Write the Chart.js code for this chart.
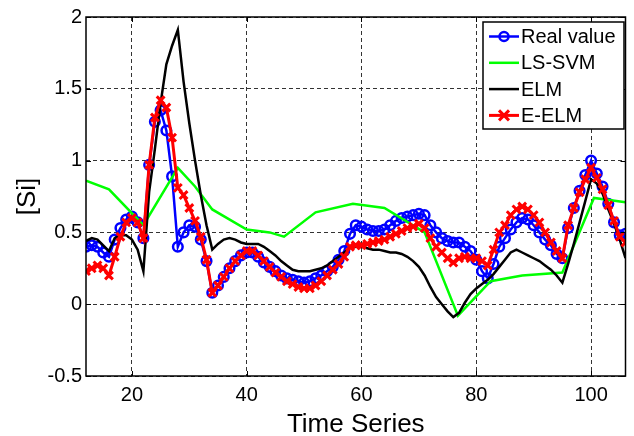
<!DOCTYPE html>
<html><head><meta charset="utf-8">
<script src="https://cdn.jsdelivr.net/npm/chart.js@4.4.1/dist/chart.umd.min.js"></script>
<style>html,body{margin:0;padding:0;background:#fff}#wrap{width:634px;height:436px}</style>
</head><body><div id="wrap"><canvas id="c" width="634" height="436"></canvas></div>
<script>
const timeIndex = [12,13,14,15,16,17,18,19,20,21,22,23,24,25,26,27,28,29,30,31,32,33,34,35,36,37,38,39,40,41,42,43,44,45,46,47,48,49,50,51,52,53,54,55,56,57,58,59,60,61,62,63,64,65,66,67,68,69,70,71,72,73,74,75,76,77,78,79,80,81,82,83,84,85,86,87,88,89,90,91,92,93,94,95,96,97,98,99,100,101,102,103,104,105,106];
const realValue = [0.40,0.41,0.40,0.36,0.33,0.45,0.53,0.59,0.61,0.57,0.46,0.97,1.27,1.35,1.21,0.89,0.40,0.50,0.55,0.54,0.45,0.30,0.08,0.13,0.19,0.25,0.30,0.34,0.36,0.36,0.33,0.29,0.26,0.23,0.20,0.18,0.17,0.16,0.15,0.16,0.18,0.20,0.23,0.26,0.31,0.37,0.49,0.55,0.54,0.52,0.51,0.51,0.52,0.55,0.58,0.60,0.61,0.62,0.63,0.62,0.55,0.50,0.46,0.44,0.43,0.43,0.40,0.37,0.31,0.23,0.18,0.28,0.40,0.46,0.52,0.57,0.60,0.59,0.55,0.50,0.45,0.41,0.35,0.32,0.53,0.67,0.79,0.90,1.00,0.91,0.82,0.70,0.57,0.48,0.49];
const lsSvmX = [12,16,22,28,31,34,40,44,46.5,52,58.5,64,71,76.8,82.5,88,95,100.5,106];
const lsSvmY = [0.86,0.80,0.55,0.95,0.82,0.66,0.52,0.50,0.47,0.64,0.70,0.67,0.50,-0.08,0.16,0.20,0.22,0.74,0.71];
const elmValue = [0.44,0.46,0.45,0.41,0.37,0.46,0.48,0.48,0.45,0.38,0.23,0.78,1.08,1.40,1.67,1.80,1.91,1.55,1.26,1.00,0.76,0.55,0.38,0.42,0.45,0.46,0.45,0.43,0.42,0.42,0.42,0.40,0.37,0.34,0.30,0.27,0.24,0.23,0.23,0.23,0.24,0.25,0.27,0.30,0.33,0.36,0.39,0.40,0.40,0.39,0.38,0.38,0.37,0.36,0.36,0.35,0.33,0.30,0.26,0.20,0.12,0.05,0.00,-0.05,-0.09,-0.06,0.01,0.07,0.11,0.14,0.17,0.21,0.26,0.31,0.36,0.38,0.36,0.34,0.32,0.30,0.27,0.24,0.20,0.15,0.28,0.42,0.57,0.72,0.87,0.84,0.77,0.66,0.56,0.45,0.32];
const eElmValue = [0.23,0.25,0.27,0.25,0.20,0.33,0.47,0.57,0.60,0.57,0.46,0.97,1.30,1.42,1.37,1.16,0.81,0.76,0.67,0.58,0.47,0.31,0.08,0.13,0.19,0.25,0.30,0.34,0.37,0.37,0.34,0.30,0.26,0.22,0.19,0.16,0.14,0.12,0.11,0.11,0.13,0.16,0.20,0.24,0.28,0.33,0.40,0.41,0.41,0.42,0.43,0.44,0.45,0.47,0.49,0.51,0.53,0.54,0.56,0.53,0.46,0.40,0.36,0.32,0.29,0.32,0.33,0.32,0.32,0.30,0.27,0.38,0.50,0.55,0.62,0.66,0.68,0.66,0.62,0.57,0.50,0.43,0.37,0.32,0.55,0.67,0.78,0.87,0.95,0.88,0.80,0.69,0.58,0.47,0.43];
const xTicks = [20,40,60,80,100];
const xTickLabels = ['20','40','60','80','100'];
const yTicks = [-0.5,0,0.5,1,1.5,2];
const yTickLabels = ['-0.5','0','0.5','1','1.5','2'];
const seriesNames = ['Real value','LS-SVM','ELM','E-ELM'];
const xTitle = 'Time Series';
const yTitle = '[Si]';

const FONT = "'Liberation Sans', Arial, Helvetica, sans-serif";
const pts = (xs, ys) => xs.map((x, i) => ({x: x, y: ys[i]}));

const framePlugin = {
  id: 'frameLegend',
  afterDraw(chart) {
    const ctx = chart.ctx, a = chart.chartArea;
    const xs = chart.scales.x, ys = chart.scales.y;
    ctx.save();
    ctx.strokeStyle = '#000';
    ctx.lineWidth = 1.5;
    ctx.strokeRect(a.left, a.top, a.right - a.left, a.bottom - a.top);
    ctx.lineWidth = 1;
    ctx.beginPath();
    xTicks.forEach(v => {
      const px = Math.round(xs.getPixelForValue(v)) + 0.5;
      ctx.moveTo(px, a.bottom); ctx.lineTo(px, a.bottom - 5);
      ctx.moveTo(px, a.top); ctx.lineTo(px, a.top + 5);
    });
    yTicks.forEach(v => {
      const py = Math.round(ys.getPixelForValue(v)) + 0.5;
      ctx.moveTo(a.left, py); ctx.lineTo(a.left + 5, py);
      ctx.moveTo(a.right, py); ctx.lineTo(a.right - 5, py);
    });
    ctx.stroke();

    // legend box
    const bx = 483, by = 22, bw = 141, bh = 107;
    ctx.fillStyle = '#fff';
    ctx.fillRect(bx, by, bw, bh);
    ctx.strokeStyle = '#000';
    ctx.lineWidth = 1.5;
    ctx.strokeRect(bx, by, bw, bh);
    ctx.font = '20px ' + FONT;
    ctx.textBaseline = 'middle';
    ctx.textAlign = 'left';
    chart.data.datasets.forEach((ds, i) => {
      const y = 36.5 + i * 26.3;
      ctx.strokeStyle = ds.borderColor;
      ctx.lineWidth = ds.borderWidth;
      ctx.beginPath(); ctx.moveTo(489, y); ctx.lineTo(519, y); ctx.stroke();
      if (ds.pointStyle === 'circle' && ds.pointRadius > 0) {
        ctx.lineWidth = 2.5;
        ctx.beginPath(); ctx.arc(504, y, 4.5, 0, Math.PI * 2); ctx.stroke();
      } else if (ds.pointStyle === 'crossRot' && ds.pointRadius > 0) {
        ctx.lineWidth = 3;
        const r = 5;
        ctx.beginPath();
        ctx.moveTo(504 - r, y - r); ctx.lineTo(504 + r, y + r);
        ctx.moveTo(504 - r, y + r); ctx.lineTo(504 + r, y - r);
        ctx.stroke();
      }
      ctx.fillStyle = '#000';
      ctx.fillText(ds.label, 521, y + 1);
    });
    ctx.restore();
  }
};

new Chart(document.getElementById('c'), {
  type: 'line',
  data: {
    datasets: [
      {label: seriesNames[0], data: pts(timeIndex, realValue), borderColor: '#0000ff', backgroundColor: 'rgba(0,0,0,0)',
       borderWidth: 2.5, pointStyle: 'circle', pointRadius: 4.8, pointBorderWidth: 2.5, pointBorderColor: '#0000ff', pointBackgroundColor: 'rgba(0,0,0,0)', order: 4},
      {label: seriesNames[1], data: pts(lsSvmX, lsSvmY), borderColor: '#00ff00', backgroundColor: '#00ff00',
       borderWidth: 2.5, pointStyle: 'line', pointRadius: 0, order: 3},
      {label: seriesNames[2], data: pts(timeIndex, elmValue), borderColor: '#000000', backgroundColor: '#000000',
       borderWidth: 2.5, pointStyle: 'line', pointRadius: 0, order: 2},
      {label: seriesNames[3], data: pts(timeIndex, eElmValue), borderColor: '#ff0000', backgroundColor: 'rgba(0,0,0,0)',
       borderWidth: 3, pointStyle: 'crossRot', pointRadius: 5.5, pointBorderWidth: 3, pointBorderColor: '#ff0000', order: 1}
    ]
  },
  options: {
    responsive: false,
    animation: false,
    devicePixelRatio: 1,
    layout: {padding: {left: 0, top: 17, right: 7, bottom: 0}},
    elements: {line: {tension: 0}},
    plugins: {legend: {display: false}, tooltip: {enabled: false}},
    scales: {
      x: {
        type: 'linear', min: 12, max: 106,
        afterBuildTicks: s => { s.ticks = xTicks.map(v => ({value: v})); },
        afterFit: s => { s.height = 60; },
        grid: {color: '#333', lineWidth: 1, drawTicks: false},
        border: {display: false, dash: [4, 3]},
        ticks: {color: '#000', font: {family: FONT, size: 20}, padding: 7, maxRotation: 0, autoSkip: false,
                callback: (v, i) => xTickLabels[i]},
        title: {display: true, text: xTitle, color: '#000', font: {family: FONT, size: 26, lineHeight: 0.85}, padding: {top: 0, bottom: 0}}
      },
      y: {
        type: 'linear', min: -0.5, max: 2,
        afterBuildTicks: s => { s.ticks = yTicks.map(v => ({value: v})); },
        afterFit: s => { s.width = 86; },
        grid: {color: '#333', lineWidth: 1, drawTicks: false},
        border: {display: false, dash: [4, 3]},
        ticks: {color: '#000', font: {family: FONT, size: 20}, padding: 4,
                callback: (v, i) => yTickLabels[i]},
        title: {display: true, text: yTitle, color: '#000', font: {family: FONT, size: 26}, padding: {top: 12, bottom: 0}}
      }
    }
  },
  plugins: [framePlugin]
});
</script></body></html>
